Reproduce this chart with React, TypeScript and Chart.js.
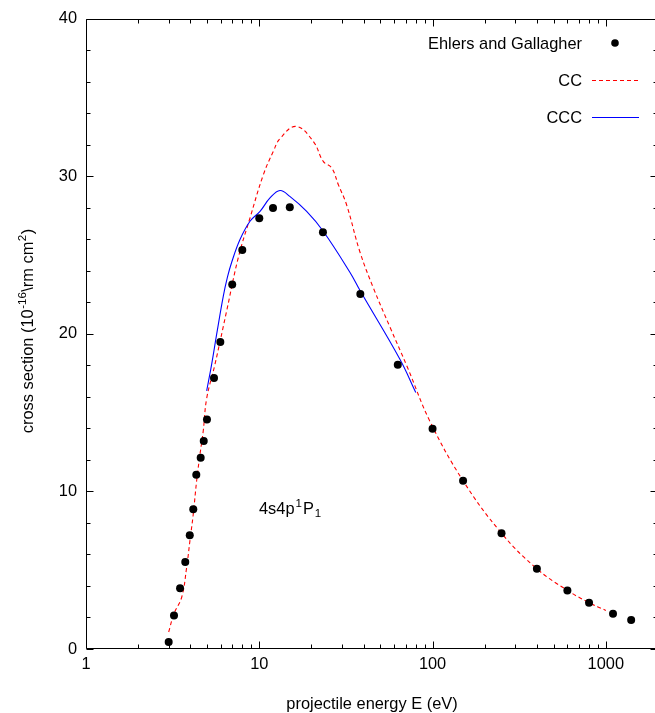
import React, { useEffect, useRef } from "react";
import { Chart, registerables } from "chart.js";

Chart.register(...registerables);

// Ehlers and Gallagher measurements
const expEnergy = [3.0, 3.22, 3.49, 3.74, 3.97, 4.16, 4.33, 4.59, 4.78, 4.99, 5.48, 5.96, 6.98, 7.98, 10, 12, 15, 23.3, 38.3, 63, 100, 150, 250, 400, 600, 800, 1100, 1400];
const expCross = [0.45, 2.13, 3.86, 5.53, 7.22, 8.87, 11.06, 12.14, 13.2, 14.57, 17.2, 19.49, 23.14, 25.33, 27.34, 27.99, 28.04, 26.45, 22.53, 18.05, 13.98, 10.68, 7.35, 5.09, 3.72, 2.94, 2.24, 1.84];

// CC calculation
const ccEnergy = [3.0, 3.22, 3.57, 3.81, 3.98, 4.16, 4.35, 4.55, 4.75, 4.97, 5.55, 6.48, 7.56, 8.84, 10.55, 12.04, 13.17, 16.3, 20.5, 23.4, 26.2, 28.6, 31.9, 38.1, 45.5, 56.8, 71.5, 96.6, 150, 250, 400, 600, 800, 1000];
const ccCross = [1.08, 2.24, 3.3, 5.19, 6.88, 8.57, 10.68, 12.37, 13.85, 15.9, 18.07, 21.45, 24.83, 27.36, 30.1, 31.58, 32.4, 33.17, 32.22, 30.95, 30.53, 29.47, 28.2, 25.2, 22.93, 20.43, 17.9, 14.45, 10.68, 7.35, 5.09, 3.72, 2.94, 2.45];

// CCC calculation
const cccEnergy = [4.97, 5.31, 5.68, 6.2, 6.55, 6.93, 7.74, 8.84, 10.1, 11.53, 13.17, 15.0, 18.77, 23.4, 33.4, 38.3, 64.8, 80];
const cccCross = [16.38, 18.07, 20.0, 22.4, 23.6, 24.55, 25.99, 27.15, 27.78, 28.63, 29.1, 28.73, 27.78, 26.52, 23.9, 22.72, 18.39, 16.28];

const xTickValues = [1, 10, 100, 1000];
const yTickValues = [0, 10, 20, 30, 40];
const legendLabels = ["Ehlers and Gallagher", "CC", "CCC"];

const FONT = '"Liberation Sans", Arial, Helvetica, sans-serif';
const FS = 16.4;
const FS_SMALL = 11.5;
const RED = "#ff0000";
const BLUE = "#0000ff";

const toXY = (xs: number[], ys: number[]) => xs.map((x, i) => ({ x, y: ys[i] }));

const decorPlugin = {
  id: "decor",
  afterDatasetsDraw(chart: any) {
    const { ctx, chartArea, scales } = chart;
    const { left, right, top, bottom } = chartArea;
    const xs = scales.x;
    const ys = scales.y;
    ctx.save();
    ctx.strokeStyle = "#000";
    ctx.lineWidth = 1;
    const L = Math.round(left) + 0.5;
    const R = Math.round(right) - 0.5;
    const T = Math.round(top) + 0.5;
    const B = Math.round(bottom) - 0.5;
    ctx.beginPath();
    ctx.moveTo(L, T);
    ctx.lineTo(R, T);
    ctx.lineTo(R, B);
    ctx.lineTo(L, B);
    ctx.closePath();
    ctx.stroke();

    // x ticks (inward), major + minor
    ctx.beginPath();
    const xmax = xs.max;
    for (let d = 1; d <= 1000; d *= 10) {
      for (let m = 1; m <= 9; m++) {
        const v = d * m;
        if (v > xmax) continue;
        const len = m === 1 ? 7 : 4;
        const px = Math.round(xs.getPixelForValue(v)) + 0.5;
        ctx.moveTo(px, B);
        ctx.lineTo(px, B - len);
        ctx.moveTo(px, T);
        ctx.lineTo(px, T + len);
      }
    }
    // y ticks
    for (let v = 0; v <= 40; v += 2) {
      const len = v % 10 === 0 ? 7 : 4;
      const py = Math.round(ys.getPixelForValue(v)) + 0.5;
      ctx.moveTo(L, py);
      ctx.lineTo(L + len, py);
      ctx.moveTo(R, py);
      ctx.lineTo(R - len, py);
    }
    ctx.stroke();

    // Legend
    ctx.fillStyle = "#000";
    ctx.font = `${FS}px ${FONT}`;
    ctx.textAlign = "right";
    ctx.textBaseline = "middle";
    const textRight = 582;
    const rows = [43, 80, 117];
    legendLabels.forEach((t, i) => ctx.fillText(t, textRight, rows[i] + 1));
    ctx.beginPath();
    ctx.arc(615, rows[0], 3.8, 0, Math.PI * 2);
    ctx.fill();
    ctx.lineWidth = 1.1;
    ctx.strokeStyle = RED;
    ctx.setLineDash([4, 3]);
    ctx.beginPath();
    ctx.moveTo(592, rows[1] + 0.5);
    ctx.lineTo(639, rows[1] + 0.5);
    ctx.stroke();
    ctx.setLineDash([]);
    ctx.strokeStyle = BLUE;
    ctx.beginPath();
    ctx.moveTo(592, rows[2] + 0.5);
    ctx.lineTo(639, rows[2] + 0.5);
    ctx.stroke();

    // Annotation 4s4p 1P1
    ctx.fillStyle = "#000";
    ctx.textAlign = "left";
    ctx.textBaseline = "alphabetic";
    let ax = 259;
    const ab = 514;
    ctx.font = `${FS}px ${FONT}`;
    ctx.fillText("4s4p", ax, ab);
    ax += ctx.measureText("4s4p").width + 1;
    ctx.font = `${FS_SMALL}px ${FONT}`;
    ctx.fillText("1", ax, ab - 7);
    ax += ctx.measureText("1").width + 1;
    ctx.font = `${FS}px ${FONT}`;
    ctx.fillText("P", ax, ab);
    ax += ctx.measureText("P").width + 1;
    ctx.font = `${FS_SMALL}px ${FONT}`;
    ctx.fillText("1", ax, ab + 3);

    // X axis title
    ctx.font = `${FS}px ${FONT}`;
    ctx.textAlign = "center";
    ctx.fillText("projectile energy E (eV)", 372, 709);

    // Y axis title (rotated, with superscripts)
    const parts: [string, boolean][] = [
      ["cross section (10", false],
      ["-16", true],
      ["\\rm cm", false],
      ["2", true],
      [")", false],
    ];
    let total = 0;
    const widths = parts.map(([t, sup]) => {
      ctx.font = sup ? `${FS_SMALL}px ${FONT}` : `${FS}px ${FONT}`;
      const w = ctx.measureText(t).width + (sup ? 1 : 0);
      total += w;
      return w;
    });
    ctx.translate(33, 331);
    ctx.rotate(-Math.PI / 2);
    ctx.textAlign = "left";
    let u = -total / 2;
    parts.forEach(([t, sup], i) => {
      ctx.font = sup ? `${FS_SMALL}px ${FONT}` : `${FS}px ${FONT}`;
      ctx.fillText(t, u + (sup ? 0.5 : 0), sup ? -7 : 0);
      u += widths[i];
    });
    ctx.restore();
  },
};

export default function App() {
  const ref = useRef<HTMLCanvasElement>(null);
  useEffect(() => {
    document.body.style.margin = "0";
    const chart = new Chart(ref.current!, {
      type: "scatter",
      data: {
        datasets: [
          {
            label: "Ehlers and Gallagher",
            data: toXY(expEnergy, expCross),
            showLine: false,
            pointRadius: 4,
            pointBackgroundColor: "#000",
            pointBorderWidth: 0,
            pointBorderColor: "#000",
            order: 0,
          },
          {
            label: "CC",
            data: toXY(ccEnergy, ccCross),
            showLine: true,
            borderColor: RED,
            borderWidth: 1.1,
            borderDash: [4, 3],
            pointRadius: 0,
            tension: 0.4,
            order: 2,
          },
          {
            label: "CCC",
            data: toXY(cccEnergy, cccCross),
            showLine: true,
            borderColor: BLUE,
            borderWidth: 1.1,
            pointRadius: 0,
            tension: 0.4,
            order: 1,
          },
        ],
      },
      options: {
        animation: false,
        responsive: false,
        maintainAspectRatio: false,
        layout: { padding: { top: 17, right: 4, left: 0, bottom: 0 } },
        plugins: { legend: { display: false }, tooltip: { enabled: false } },
        scales: {
          x: {
            type: "logarithmic",
            min: 1,
            max: 2000,
            grid: { display: false, drawTicks: false, tickLength: 0 },
            border: { display: false },
            afterBuildTicks: (scale: any) => {
              scale.ticks = xTickValues.map((v) => ({ value: v }));
            },
            afterFit: (scale: any) => {
              scale.height = 64;
            },
            ticks: {
              autoSkip: false,
              maxRotation: 0,
              padding: 6,
              color: "#000",
              font: { family: FONT, size: FS },
              callback: (v: any) => String(v),
            },
          },
          y: {
            type: "linear",
            min: 0,
            max: 40,
            grid: { display: false, drawTicks: false, tickLength: 0 },
            border: { display: false },
            afterBuildTicks: (scale: any) => {
              scale.ticks = yTickValues.map((v) => ({ value: v }));
            },
            afterFit: (scale: any) => {
              scale.width = 86;
            },
            ticks: {
              padding: 9,
              color: "#000",
              font: { family: FONT, size: FS },
              callback: (v: any) => String(v),
            },
          },
        },
      },
      plugins: [decorPlugin],
    });
    return () => chart.destroy();
  }, []);
  return (
    <div style={{ width: 655, height: 713, overflow: "hidden", background: "#fff" }}>
      <canvas ref={ref} width={662} height={713} style={{ display: "block" }} />
    </div>
  );
}
